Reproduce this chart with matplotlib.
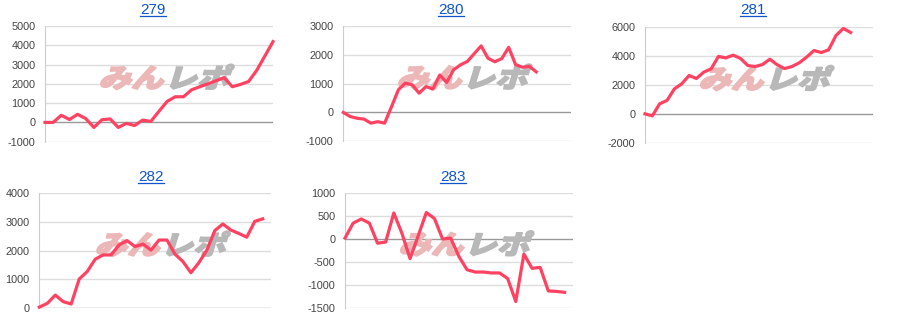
import matplotlib
matplotlib.use("Agg")
import matplotlib.pyplot as plt
from matplotlib import transforms
from matplotlib.textpath import TextPath
from matplotlib.patches import PathPatch
from matplotlib.font_manager import FontProperties
from matplotlib.lines import Line2D

# chart titles (machine numbers)
titles = ["279", "280", "281", "282", "283"]

# cumulative values per machine, one per game
s279 = [0, 0, 370, 150, 420, 200, -260, 140, 180, -260, -50, -160, 120, 50, 580,
        1090, 1330, 1330, 1690, 1850, 2000, 2160, 2320, 1850, 1970, 2120, 2700, 3440, 4190]
s280 = [0, -140, -200, -230, -370, -320, -370, 200, 790, 1020, 960, 670, 900, 810, 1300,
        1040, 1480, 1650, 1770, 2040, 2310, 1880, 1760, 1870, 2260, 1660, 1570, 1600, 1410]
s281 = [0, -140, 700, 930, 1730, 2080, 2660, 2450, 2890, 3120, 3980, 3880, 4070, 3840, 3350,
        3280, 3420, 3790, 3400, 3140, 3280, 3540, 3930, 4390, 4250, 4440, 5430, 5920, 5640]
s282 = [30, 160, 450, 220, 140, 1010, 1270, 1700, 1850, 1850, 2200, 2350, 2140, 2230, 2020,
        2370, 2370, 1880, 1620, 1230, 1580, 2020, 2700, 2930, 2720, 2600, 2470, 3020, 3110]
s283 = [15, 340, 430, 340, -95, -70, 560, 120, -430, 65, 570, 440, -5, 15, -380,
        -670, -720, -720, -740, -740, -860, -1360, -330, -640, -620, -1130, -1140, -1160]
series = [s279, s280, s281, s282, s283]

# axis ranges
x_max = [28, 33, 31, 29, 28]
y_ranges = [(-1000, 5000, 1000), (-1000, 3000, 1000), (-2000, 6000, 2000),
            (0, 4000, 1000), (-1500, 1000, 500)]

# axes rectangles in figure pixels: left, top, right, bottom
boxes = [(45, 26, 273, 141.7), (343.3, 26, 570.7, 141.3), (645, 27.3, 872.7, 142.7),
         (39.3, 193.3, 270.7, 308), (345, 192.7, 572.7, 308)]
# title center x and baseline (pixels from top)
title_pos = [(153, 14), (451, 14), (753, 14), (151, 181), (453, 181)]

W, H = 900, 332
LINE = "#ff4262"
plt.rcParams["font.family"] = ["Liberation Sans", "DejaVu Sans"]
plt.rcParams["axes.unicode_minus"] = False

fig = plt.figure(figsize=(W / 100, H / 100), dpi=100)

# watermark glyphs
jp = FontProperties(family="Noto Sans CJK JP", weight="heavy")
p1 = TextPath((0, 0), "みん", size=30, prop=jp)
p2 = TextPath((0, 0), "レポ", size=30, prop=jp)
w1 = p1.get_extents().x1
p2 = p2.transformed(transforms.Affine2D().translate(w1 + 2, 0))
ext = p1.get_extents().union([p1.get_extents(), p2.get_extents()])
cx = (ext.x0 + ext.x1) / 2
cy = (ext.y0 + ext.y1) / 2

for i, data in enumerate(series):
    l, t, r, b = boxes[i]
    ax = fig.add_axes([l / W, (H - b) / H, (r - l) / W, (b - t) / H])
    lo, hi, step = y_ranges[i]
    ticks = list(range(lo, hi + 1, step))
    ax.set_ylim(lo, hi)
    ax.set_xlim(0, x_max[i])
    ax.set_yticks(ticks)
    ax.set_xticks([])
    for v in ticks:
        ax.axhline(v, color="#999999" if v == 0 else "#dddddd", lw=1, zorder=1)
    for s in ["top", "right", "bottom"]:
        ax.spines[s].set_visible(False)
    ax.spines["left"].set_color("#cccccc")
    ax.tick_params(axis="y", length=0, pad=7, labelsize=7.8, labelcolor="#444444")

    tr = (transforms.Affine2D().translate(-cx, -cy).skew_deg(14, 0).scale(1.08, 0.88)
          + transforms.ScaledTranslation(0.535, 0.56, ax.transAxes))
    ax.add_patch(PathPatch(p1, transform=tr, facecolor="#ebb7b7", edgecolor="#ebb7b7",
                           lw=1.2, zorder=2, clip_on=False))
    ax.add_patch(PathPatch(p2, transform=tr, facecolor="#b8b8b8", edgecolor="#b8b8b8",
                           lw=1.2, zorder=2, clip_on=False))

    ax.plot(range(len(data)), data, color=LINE, lw=2.3, zorder=3, clip_on=False)

for i, name in enumerate(titles):
    x, y = title_pos[i]
    txt = fig.text(x / W, 1 - y / H, name, ha="center", va="baseline",
                   fontsize=11, color="#1155cc")
    bb = txt.get_window_extent(fig.canvas.get_renderer())
    fig.add_artist(Line2D([bb.x0 / W, bb.x1 / W], [(H - y - 2) / H, (H - y - 2) / H],
                          color="#1155cc", lw=0.9, transform=fig.transFigure))

fig.savefig("out.png", dpi=100)
